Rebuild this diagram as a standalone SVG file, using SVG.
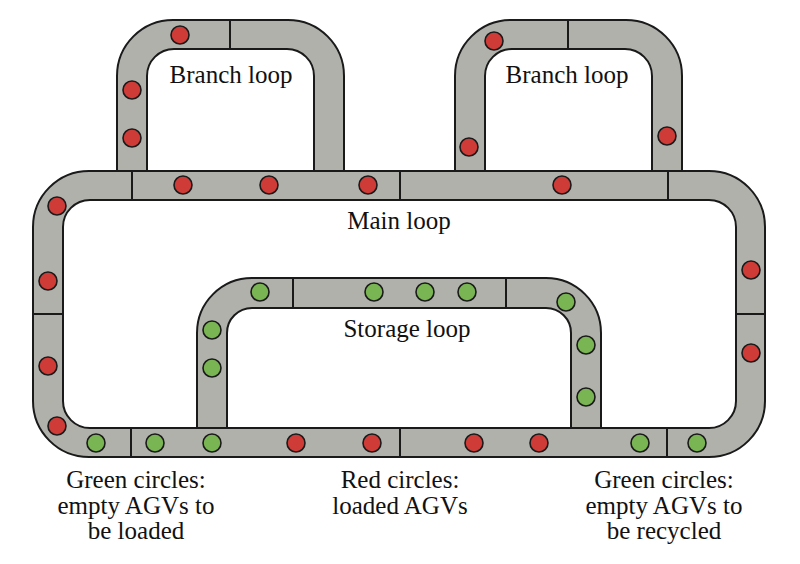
<svg xmlns="http://www.w3.org/2000/svg" width="800" height="564" viewBox="0 0 800 564">
<style>
.track{fill:#b1b1ac;stroke:#1a1a1a;stroke-width:2;fill-rule:evenodd;stroke-linejoin:round}
.div{stroke:#1a1a1a;stroke-width:2;fill:none}
.red{fill:#cf3b37;stroke:#1a1a1a;stroke-width:1.6}
.green{fill:#79b553;stroke:#1a1a1a;stroke-width:1.6}
text{font-family:"Liberation Serif","DejaVu Serif",serif;font-size:25px;fill:#111;text-anchor:middle}
</style>
<rect width="800" height="564" fill="#fff"/>
<g id="main-loop">
<path class="track" d="M89,171 H709 A56 56 0 0 1 765,227 V401 A56 56 0 0 1 709,457 H89 A56 56 0 0 1 33,401 V227 A56 56 0 0 1 89,171 Z M90,200 H709 A27 27 0 0 1 736,227 V401 A27 27 0 0 1 709,428 H90 A27 27 0 0 1 63,401 V227 A27 27 0 0 1 90,200 Z"/>
</g>
<g id="branch-loop-1">
<path class="track" d="M117,171 V76 A56 56 0 0 1 173,20 H288 A56 56 0 0 1 344,76 V171 H314 V76 A27 27 0 0 0 287,49 H174 A27 27 0 0 0 147,76 V171 Z"/>
</g>
<g id="branch-loop-2">
<path class="track" d="M455,171 V76 A56 56 0 0 1 511,20 H626 A56 56 0 0 1 682,76 V171 H652 V76 A27 27 0 0 0 625,49 H512 A27 27 0 0 0 485,76 V171 Z"/>
</g>
<g id="storage-loop">
<path class="track" d="M197,428 V333 A55 55 0 0 1 252,278 H546 A55 55 0 0 1 601,333 V428 H571 V333 A25 25 0 0 0 546,308 H252 A25 25 0 0 0 227,333 V428 Z"/>
</g>
<g id="connectors">
<path class="div" d="M230,20 V49 M568,20 V49 M132,171 V200 M400,171 V200 M668,171 V200 M131,428 V457 M400,428 V457 M667,428 V457 M33,314 H63 M736,314 H765 M293,278 V308 M506,278 V308"/>
</g>
<g id="agvs-loaded">
<circle class="red" cx="180" cy="35" r="9"/>
<circle class="red" cx="132" cy="90" r="9"/>
<circle class="red" cx="132" cy="138" r="9"/>
<circle class="red" cx="494" cy="41" r="9"/>
<circle class="red" cx="469" cy="147" r="9"/>
<circle class="red" cx="667" cy="136" r="9"/>
<circle class="red" cx="183" cy="185" r="9"/>
<circle class="red" cx="269" cy="185" r="9"/>
<circle class="red" cx="368" cy="185" r="9"/>
<circle class="red" cx="562" cy="185" r="9"/>
<circle class="red" cx="57" cy="206" r="9"/>
<circle class="red" cx="48" cy="281" r="9"/>
<circle class="red" cx="48" cy="366" r="9"/>
<circle class="red" cx="57" cy="426" r="9"/>
<circle class="red" cx="296" cy="443" r="9"/>
<circle class="red" cx="372" cy="443" r="9"/>
<circle class="red" cx="474" cy="443" r="9"/>
<circle class="red" cx="539" cy="443" r="9"/>
<circle class="red" cx="751" cy="270" r="9"/>
<circle class="red" cx="751" cy="353" r="9"/>
</g>
<g id="agvs-empty">
<circle class="green" cx="96" cy="443" r="9"/>
<circle class="green" cx="155" cy="443" r="9"/>
<circle class="green" cx="212" cy="443" r="9"/>
<circle class="green" cx="640" cy="443" r="9"/>
<circle class="green" cx="697" cy="443" r="9"/>
<circle class="green" cx="260" cy="292" r="9"/>
<circle class="green" cx="374" cy="292" r="9"/>
<circle class="green" cx="425" cy="292" r="9"/>
<circle class="green" cx="467" cy="292" r="9"/>
<circle class="green" cx="566" cy="302" r="9"/>
<circle class="green" cx="586" cy="345" r="9"/>
<circle class="green" cx="586" cy="397" r="9"/>
<circle class="green" cx="212" cy="330" r="9"/>
<circle class="green" cx="212" cy="368" r="9"/>
</g>
<g id="labels">
<text x="231" y="83">Branch loop</text>
<text x="567" y="83">Branch loop</text>
<text x="399" y="229">Main loop</text>
<text x="407" y="337">Storage loop</text>
<text x="136" y="488">Green circles:</text>
<text x="136" y="514">empty AGVs to</text>
<text x="136" y="539">be loaded</text>
<text x="400" y="488">Red circles:</text>
<text x="400" y="514">loaded AGVs</text>
<text x="664" y="488">Green circles:</text>
<text x="664" y="514">empty AGVs to</text>
<text x="664" y="539">be recycled</text>
</g>
</svg>
